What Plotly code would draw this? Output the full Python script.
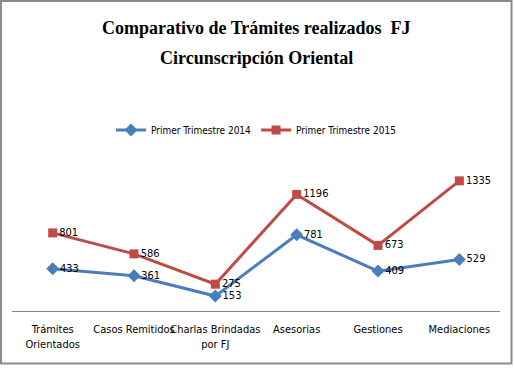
import plotly.graph_objects as go

categories = ["Trámites<br>Orientados", "Casos Remitidos", "Charlas Brindadas<br>por FJ",
              "Asesorias", "Gestiones", "Mediaciones"]
series_2014_name = "Primer Trimestre 2014"
series_2015_name = "Primer Trimestre 2015"
values_2014 = [433, 361, 153, 781, 409, 529]
values_2015 = [801, 586, 275, 1196, 673, 1335]

W, H = 514, 370
L, R, T, B = 12, 14, 155, 59
pw, ph = W - L - R, H - T - B

def px(x):
    return (x - L) / pw

def py(y):
    return (H - B - y) / ph

narrow = "Liberation Sans Narrow, DejaVu Sans Condensed, Arial Narrow, sans-serif"
label_font = dict(family=narrow, size=11, color="#000000")
tick_font = dict(family=narrow, size=11, color="#000000")

fig = go.Figure()
fig.add_trace(go.Scatter(
    x=categories, y=values_2014, name=series_2014_name,
    mode="lines+markers+text", text=[str(v) for v in values_2014],
    textposition="middle right", textfont=label_font,
    line=dict(color="#4A7EBB", width=3),
    marker=dict(symbol="diamond", size=10, color="#4A7EBB"),
    cliponaxis=False,
))
fig.add_trace(go.Scatter(
    x=categories, y=values_2015, name=series_2015_name,
    mode="lines+markers+text", text=[str(v) for v in values_2015],
    textposition="middle right", textfont=label_font,
    line=dict(color="#BE4B48", width=3),
    marker=dict(symbol="square", size=9, color="#BE4B48"),
    cliponaxis=False,
))

title_font = dict(family="Liberation Serif, Times New Roman, serif", size=18, color="#000000")
fig.add_annotation(text="<b>Comparativo de Trámites realizados  FJ</b>", xref="paper", yref="paper",
                   x=px(256), y=py(28), showarrow=False, xanchor="center", yanchor="middle",
                   font=title_font)
fig.add_annotation(text="<b>Circunscripción Oriental</b>", xref="paper", yref="paper",
                   x=px(256), y=py(58), showarrow=False, xanchor="center", yanchor="middle",
                   font=title_font)

fig.add_shape(type="rect", xref="paper", yref="paper",
              x0=px(1), x1=px(511.5), y0=py(363.5), y1=py(1),
              line=dict(color="#8C8C8C", width=2), fillcolor="rgba(0,0,0,0)")

fig.update_layout(
    width=W, height=H,
    margin=dict(l=L, r=R, t=T, b=B, autoexpand=False),
    paper_bgcolor="#FFFFFF", plot_bgcolor="#FFFFFF",
    showlegend=True,
    legend=dict(orientation="h", x=0.5, xanchor="center", y=py(130), yanchor="middle",
                font=dict(family=narrow, size=10, color="#000000"),
                itemwidth=30, tracegroupgap=0),
    xaxis=dict(range=[-0.5, len(categories) - 0.5], showgrid=False, showline=True,
               linecolor="#868686", linewidth=1, ticklabelstandoff=8,
               ticks="", tickfont=tick_font, tickangle=0, automargin=False, zeroline=False),
    yaxis=dict(range=[0, 1600], visible=False, showgrid=False, zeroline=False, automargin=False),
)

fig.write_html("out.html", config={"responsive": False, "displayModeBar": False},
               post_script="document.body.style.margin='0';document.body.style.overflow='hidden';")
